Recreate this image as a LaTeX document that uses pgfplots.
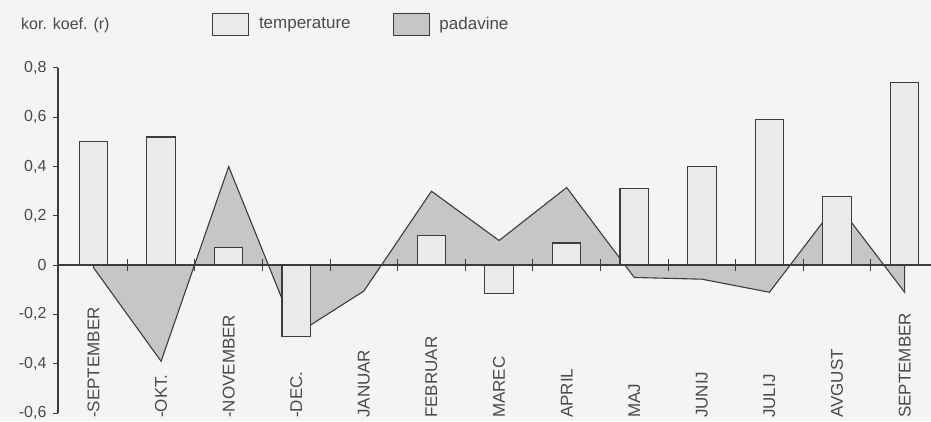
\documentclass[border=0pt]{standalone}
\usepackage{pgfplots}
\pgfplotsset{compat=1.18}
\usepackage{fontspec}
\setmainfont{Liberation Sans}
\definecolor{bg}{HTML}{F4F4F3}
\definecolor{barfill}{HTML}{EAEAEA}
\definecolor{areafill}{HTML}{C6C6C6}
\definecolor{ink}{HTML}{3C3C3C}
\definecolor{txt}{HTML}{4A4A4A}
\begin{document}
\begin{tikzpicture}[font=\fontsize{16}{19}\selectfont]
\fill[bg] (0,0) rectangle (931pt,421pt);
\useasboundingbox (0,0) rectangle (931pt,421pt);
\begin{axis}[
  at={(58pt,8pt)}, anchor=south west,
  scale only axis, width=873pt, height=345pt,
  xmin=-0.525, xmax=12.39, ymin=-0.6, ymax=0.8,
  axis y line*=left, axis x line*=bottom,
  x axis line style={draw=none},
  y axis line style={ink, line width=1.1pt, -},
  xtick={0,...,12},
  xticklabels={-SEPTEMBER,-OKT.,-NOVEMBER,-DEC.,JANUAR,FEBRUAR,MAREC,APRIL,MAJ,JUNIJ,JULIJ,AVGUST,SEPTEMBER},
  xtick style={draw=none},
  xticklabel style={rotate=90, anchor=west, inner sep=0pt, font=\fontsize{17}{20}\selectfont, text=txt},
  ytick={-0.6,-0.4,-0.2,0,0.2,0.4,0.6,0.8},
  yticklabel style={font=\fontsize{16}{19}\selectfont, text=txt, xshift=-3pt},
  /pgf/number format/use comma,
  /pgf/number format/fixed,
  /pgf/number format/precision=1,
  /pgf/number format/assume math mode=true,
  tick align=outside, major tick length=5pt,
  ytick style={ink, line width=1pt},
  legend columns=-1,
  legend style={at={(0.1764,1.1275)}, anchor=west, draw=none, fill=none, inner sep=0pt,
    font=\fontsize{17}{20}\selectfont, text=txt,
    /tikz/every odd column/.append style={column sep=8pt},
    /tikz/every even column/.append style={column sep=40pt}},
]
\addlegendimage{legend image code/.code={\draw[fill=barfill, draw=ink, line width=0.8pt] (0pt,-11pt) rectangle (36pt,11pt);}}
\addlegendentry{temperature}
\addlegendimage{legend image code/.code={\draw[fill=areafill, draw=ink, line width=0.8pt] (0pt,-11pt) rectangle (36pt,11pt);}}
\addlegendentry{padavine}

% padavine (precipitation)
\addplot[fill=areafill, draw=ink, line width=1.1pt, forget plot] coordinates {
 (0,-0.01) (1,-0.39) (2,0.40) (3,-0.28) (4,-0.105) (5,0.30) (6,0.10)
 (7,0.315) (8,-0.05) (9,-0.057) (10,-0.11) (11,0.25) (12,-0.11)
} \closedcycle;

% temperature
\addplot[ybar, bar width=28.5pt, fill=barfill, draw=ink, line width=1.1pt, forget plot] coordinates {
 (0,0.50) (1,0.52) (2,0.07) (3,-0.29) (5,0.12) (6,-0.115) (7,0.09)
 (8,0.31) (9,0.40) (10,0.59) (11,0.28) (12,0.74)
};
\end{axis}
\begin{axis}[
  at={(58pt,8pt)}, anchor=south west,
  scale only axis, width=873pt, height=345pt,
  xmin=-0.525, xmax=12.39, ymin=-0.6, ymax=0.8,
  axis x line=middle, axis y line=none,
  x axis line style={-, ink, line width=1.6pt},
  xtick={0.5,1.5,...,11.5}, xticklabels={},
  tick align=center, major tick length=12pt,
  xtick style={ink, line width=1pt},
  ytick=\empty,
]
\addplot[draw=none] coordinates {(0,0)};
\end{axis}
\node[anchor=west, text=txt, inner sep=0pt] at (21pt,396pt) {kor. koef. (r)};
\end{tikzpicture}
\end{document}
